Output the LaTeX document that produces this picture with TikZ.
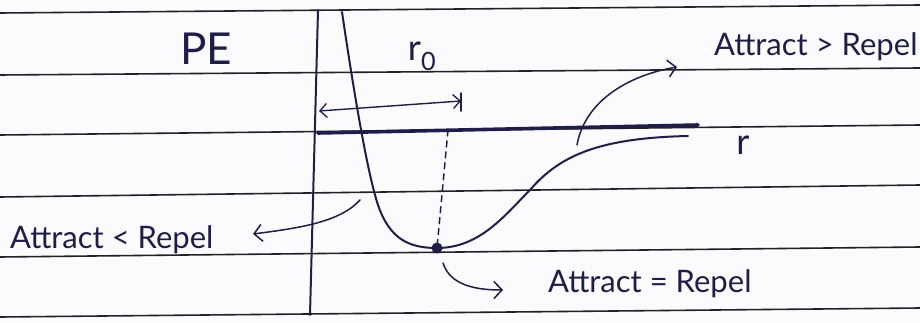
\documentclass[tikz,border=0pt]{standalone}
\usepackage{fontspec}
\setmainfont{Lato}
\usetikzlibrary{arrows.meta}
\definecolor{ink}{HTML}{1E1E48}
\definecolor{rulecol}{HTML}{222228}
\definecolor{paper}{HTML}{FBFBFD}
\tikzset{
  inkline/.style={draw=ink, line width=2pt, line cap=round},
  ruleline/.style={draw=rulecol, line width=1.6pt},
  tip/.style={-{Straight Barb[length=8pt,width=17pt,line width=1.5pt]}},
  lbl/.style={text=ink, inner sep=0pt, font=\fontsize{31}{34}\selectfont},
}
\begin{document}
\begin{tikzpicture}[x=1pt,y=-1pt]
\fill[paper] (0,0) rectangle (920,323);
\useasboundingbox (0,0) rectangle (920,323);
% ruled paper
\foreach \a/\b in {13/5, 75/68, 135/125, 197/185, 257/247, 317/308}
  \path[ruleline] (0,\a) -- (920,\b);
% axes
\coordinate (ytop) at (318,10);
\coordinate (ybot) at (310,315);
\coordinate (xl) at (318,133);
\coordinate (xr) at (698,125);
\path[inkline] (ytop) -- (ybot);
\path[inkline, line width=3.6pt] (xl) -- (xr);
% labels
\node[lbl, font=\fontsize{44}{46}\selectfont] (pe) at (206,49) {PE};
\node[lbl, font=\fontsize{36}{38}\selectfont] (r0) at (422,56) {r\textsubscript{0}};
\node[lbl, font=\fontsize{36}{38}\selectfont] (r) at (743,145) {r};
% potential curve
\coordinate (c0) at (342,12);
\coordinate (c1) at (378,205);
\coordinate (cmin) at (437,248);
\coordinate (c2) at (530,190);
\coordinate (c3) at (688,136);
\path[inkline] (c0) .. controls (355,100) and (368,175) .. (c1)
  .. controls (390,240) and (410,248) .. (cmin)
  .. controls (480,248) and (505,215) .. (c2)
  .. controls (560,155) and (600,138) .. (c3);
\fill[ink] (cmin) circle (5.5);
% r0 span and dashed drop
\coordinate (sl) at (319,111);
\coordinate (sr) at (461,101);
\path[inkline, line width=1.4pt, {Straight Barb[length=7pt,width=14pt,line width=1.3pt]}-{Straight Barb[length=7pt,width=14pt,line width=1.3pt]}] (sl) -- (sr);
\path[inkline, line width=1.5pt] (461,93) -- (461,111);
\coordinate (dt) at (448,130);
\path[inkline, line width=1.5pt, dashed, dash pattern=on 6pt off 5pt] (dt) -- (cmin);
% annotation arrows and texts
\node[lbl, anchor=west] (gt) at (714,47) {Attract > Repel};
\node[lbl, anchor=west] (lt) at (10,240) {Attract < Repel};
\node[lbl, anchor=west] (eq) at (548,284) {Attract = Repel};
\coordinate (a1s) at (577,145);
\coordinate (a1e) at (677,67);
\path[inkline, line width=1.5pt, tip] (a1s) .. controls (585,100) and (630,75) .. (a1e);
\coordinate (a2s) at (360,200);
\coordinate (a2e) at (253,234);
\path[inkline, line width=1.5pt, tip] (a2s) .. controls (340,222) and (300,228) .. (a2e);
\coordinate (a3s) at (443,263);
\coordinate (a3e) at (503,290);
\path[inkline, line width=1.5pt, tip] (a3s) .. controls (450,285) and (475,290) .. (a3e);
\end{tikzpicture}
\end{document}
